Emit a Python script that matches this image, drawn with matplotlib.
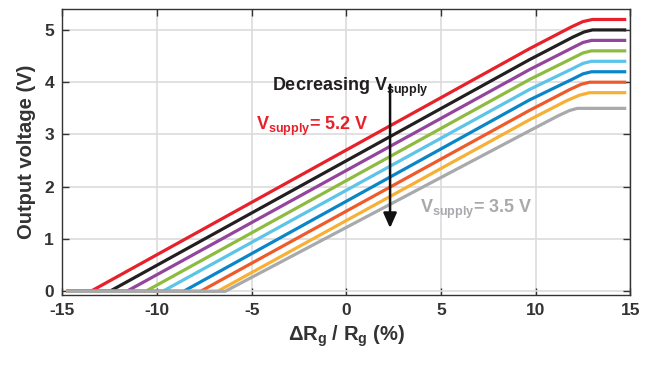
import matplotlib
matplotlib.use("Agg")
import matplotlib.pyplot as plt

plt.rcParams['font.family'] = ['Liberation Sans', 'DejaVu Sans']
plt.rcParams['mathtext.fontset'] = 'custom'
plt.rcParams['mathtext.rm'] = 'Liberation Sans:bold'
plt.rcParams['mathtext.it'] = 'Liberation Sans:bold'
plt.rcParams['mathtext.bf'] = 'Liberation Sans:bold'
plt.rcParams['mathtext.default'] = 'rm'
plt.rcParams['axes.unicode_minus'] = False

# Supply voltages and colours (top to bottom)
supplies = [5.2, 5.0, 4.8, 4.6, 4.4, 4.2, 4.0, 3.8, 3.5]
colors = ['#E8202A', '#231F20', '#93449C', '#8DBB3F', '#5BC4E8',
          '#0A85C8', '#EE5A2A', '#F7B035', '#A7A9AC']

# Curves (x in %, y in V)
x_red = [-14.7, -13.5, 9.67, 11.9, 12.5, 13.0, 14.7]
y_red = [0, 0, 4.64, 5.06, 5.16, 5.2, 5.2]
x_black = [-14.7, -12.5, 9.67, 11.95, 12.55, 13.0, 14.7]
y_black = [0, 0, 4.43, 4.86, 4.96, 5.0, 5.0]
x_purple = [-14.7, -11.6, 9.67, 11.95, 12.5, 12.95, 14.7]
y_purple = [0, 0, 4.24, 4.66, 4.76, 4.8, 4.8]
x_green = [-14.7, -10.6, 9.67, 11.95, 12.5, 12.95, 14.7]
y_green = [0, 0, 4.05, 4.46, 4.56, 4.6, 4.6]
x_cyan = [-14.7, -9.7, 9.67, 11.95, 12.5, 12.95, 14.7]
y_cyan = [0, 0, 3.86, 4.26, 4.36, 4.4, 4.4]
x_blue = [-14.7, -8.6, 9.67, 11.95, 12.5, 12.95, 14.7]
y_blue = [0, 0, 3.66, 4.06, 4.16, 4.2, 4.2]
x_orangered = [-14.7, -7.7, 9.67, 11.8, 12.4, 12.85, 14.7]
y_orangered = [0, 0, 3.46, 3.86, 3.96, 4.0, 4.0]
x_orange = [-14.7, -6.8, 9.67, 11.6, 12.3, 12.85, 14.7]
y_orange = [0, 0, 3.28, 3.64, 3.75, 3.8, 3.8]
x_gray = [-14.7, -6.4, 9.67, 11.2, 11.8, 12.2, 14.7]
y_gray = [0, 0, 3.07, 3.36, 3.46, 3.5, 3.5]

series = [(x_red, y_red), (x_black, y_black), (x_purple, y_purple),
          (x_green, y_green), (x_cyan, y_cyan), (x_blue, y_blue),
          (x_orangered, y_orangered), (x_orange, y_orange), (x_gray, y_gray)]

xticks = [-15, -10, -5, 0, 5, 10, 15]
yticks = [0, 1, 2, 3, 4, 5]

fig = plt.figure(figsize=(6.54, 3.65), dpi=100)
ax = fig.add_axes([0.0953, 0.1918, 0.8685, 0.7835])

for (xs, ys), c in zip(series, colors):
    ax.plot(xs, ys, color=c, lw=2.3, solid_joinstyle='round', zorder=3)

ax.set_xlim(-15, 15)
ax.set_ylim(-0.07, 5.4)
ax.set_xticks(xticks)
ax.set_yticks(yticks)
ax.grid(True, color='#DCDCDC', lw=1.2, zorder=0)
ax.set_axisbelow(True)

tc = '#333333'
ax.tick_params(direction='in', length=5, width=1, top=True, right=True,
               colors=tc, labelsize=12.5, pad=6)
for lab in ax.get_xticklabels() + ax.get_yticklabels():
    lab.set_fontweight('bold')
for sp in ax.spines.values():
    sp.set_color(tc)
    sp.set_linewidth(1.0)

ax.set_ylabel('Output voltage (V)', fontsize=14.5, fontweight='bold', color=tc, labelpad=6)
ax.set_xlabel(r'ΔR$_\mathrm{g}$ / R$_\mathrm{g}$ (%)', fontsize=14.5, fontweight='bold',
              color=tc, labelpad=4)

ax.text(-3.92, 3.9, r'Decreasing V$_\mathrm{supply}$', fontsize=13, fontweight='bold',
        color='#231F20', va='center', ha='left', zorder=5)
ax.text(-4.77, 3.15, r'V$_\mathrm{supply}$= 5.2 V', fontsize=13, fontweight='bold',
        color='#E8202A', va='center', ha='left', zorder=5)
ax.text(3.9, 1.56, r'V$_\mathrm{supply}$= 3.5 V', fontsize=13, fontweight='bold',
        color='#A7A9AC', va='center', ha='left', zorder=5)

ax.annotate('', xy=(2.31, 1.21), xytext=(2.31, 3.95),
            arrowprops=dict(arrowstyle='-|>,head_length=0.9,head_width=0.4',
                            color='#111111', lw=1.8, shrinkA=0, shrinkB=0),
            zorder=6)

fig.savefig('out.png', dpi=100)
